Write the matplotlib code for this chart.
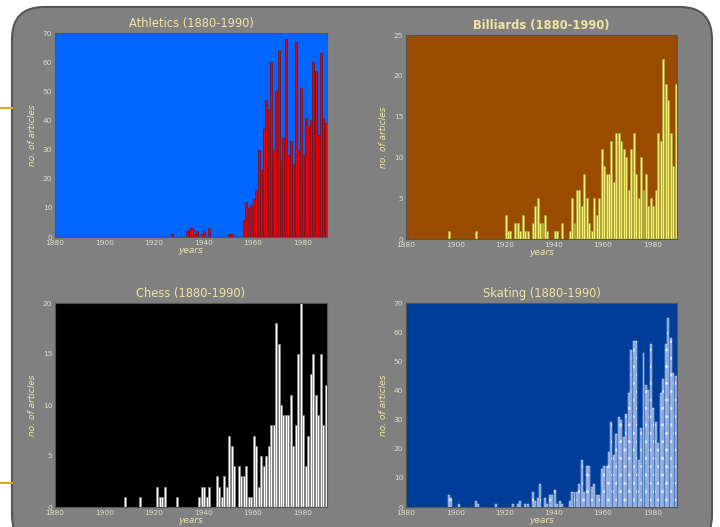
import matplotlib
matplotlib.use("Agg")
import matplotlib.pyplot as plt
from matplotlib.patches import FancyBboxPatch
from matplotlib.lines import Line2D

# articles per year, 1880-1989 (years not listed had none)
athletics_years = [1927, 1933, 1934, 1935, 1936, 1937, 1939, 1940, 1942, 1950, 1951] + list(range(1956, 1990))
athletics_counts = [1, 2, 3, 3, 1, 2, 1, 2, 3, 1, 1,
                    6, 12, 10, 11, 13, 16, 30, 23, 37, 47, 44, 60, 30, 50, 64, 26, 34,
                    68, 28, 33, 25, 67, 30, 51, 28, 41, 38, 40, 60, 57, 35, 63, 41, 39]

billiards_years = [1897, 1908, 1920, 1921, 1922, 1924, 1925, 1926, 1927, 1928, 1929,
                   1931, 1932, 1933, 1934, 1935, 1936, 1937, 1940, 1941, 1943] + list(range(1946, 1990))
billiards_counts = [1, 1, 3, 1, 1, 2, 2, 1, 3, 1, 1,
                    2, 4, 5, 2, 2, 3, 1, 1, 1, 2,
                    1, 5, 2, 6, 6, 4, 8, 5, 2, 1, 5, 3, 5, 11, 9, 8, 8, 12, 7, 13, 13, 12,
                    11, 10, 6, 11, 13, 8, 5, 10, 6, 8, 4, 5, 4, 6, 13, 12, 22, 19, 17, 13, 9, 19]

chess_years = [1908, 1914, 1921, 1922, 1923, 1924, 1929, 1938, 1939, 1940, 1941, 1942,
               1945, 1946, 1947, 1948, 1949, 1950, 1951, 1952] + list(range(1954, 1990))
chess_counts = [1, 1, 2, 1, 1, 2, 1, 1, 2, 2, 1, 2,
                3, 2, 1, 3, 2, 7, 6, 4,
                4, 3, 3, 4, 1, 1, 7, 6, 2, 5, 4, 5, 6, 8, 8, 18, 16, 10, 9, 9, 9, 11,
                6, 8, 15, 20, 9, 4, 7, 13, 15, 11, 9, 15, 8, 12]

skating_years = [1897, 1898, 1901, 1908, 1909, 1916, 1923, 1925, 1926, 1928, 1929,
                 1931, 1932, 1933, 1934, 1936, 1937, 1938, 1939, 1940, 1941, 1942, 1943] + list(range(1946, 1990))
skating_counts = [4, 3, 1, 2, 1, 1, 1, 1, 2, 1, 1,
                  5, 2, 3, 8, 3, 1, 4, 4, 6, 1, 2, 1,
                  2, 5, 5, 5, 8, 16, 5, 14, 14, 7, 8, 4, 4, 13, 14, 14, 19, 29, 18, 25,
                  31, 30, 24, 32, 39, 54, 57, 57, 16, 27, 53, 42, 40, 56, 34, 29, 22, 39,
                  44, 56, 65, 58, 46, 45]

khaki = "#eee6a0"
tick_col = "#dcdccc"

fig = plt.figure(figsize=(7.2, 5.27), dpi=100, facecolor="white")

# slide-style rounded background, drawn in pixel units
bg = FancyBboxPatch((12, -20), 700, 540,
                    boxstyle="round,pad=0,rounding_size=32",
                    transform=None, facecolor="#808080",
                    edgecolor="#555555", linewidth=1.5, zorder=-5)
fig.patches.append(bg)
for yy in (1 - 108 / 527, 1 - 483 / 527):
    fig.add_artist(Line2D([0, 12 / 720], [yy, yy], transform=fig.transFigure,
                          color="#e0a624", linewidth=1.5, zorder=-4))


def panel(rect, years, counts, title, bgcolor, ymax, ystep, bar_kw, bold=False):
    ax = fig.add_axes(rect)
    ax.set_facecolor(bgcolor)
    ax.bar(years, counts, width=0.8, align="edge", **bar_kw)
    ax.set_xlim(1880, 1990)
    ax.set_ylim(0, ymax)
    ax.set_xticks(range(1880, 1990, 20))
    ax.set_yticks(range(0, ymax + 1, ystep))
    ax.set_title(title, color=khaki, fontsize=8.3, pad=4,
                 fontweight="bold" if bold else "normal")
    ax.set_xlabel("years", color=khaki, fontsize=6.5, style="italic", labelpad=0)
    ax.set_ylabel("no. of articles", color=khaki, fontsize=6.5, style="italic", labelpad=4)
    ax.tick_params(colors=tick_col, labelsize=5.3, length=0, pad=2)
    for s in ax.spines.values():
        s.set_color("#555555")
        s.set_linewidth(0.8)
    return ax


panel([55 / 720, 1 - 237 / 527, 272 / 720, 204 / 527], athletics_years, athletics_counts,
      "Athletics (1880-1990)", "#0066ff", 70, 10,
      dict(color="#ee0000", edgecolor="#7a1010", linewidth=0.5))
panel([406 / 720, 1 - 239 / 527, 271 / 720, 204 / 527], billiards_years, billiards_counts,
      "Billiards (1880-1990)", "#994c00", 25, 5,
      dict(color="#f4f070", edgecolor="#b0a840", linewidth=0.5), bold=True)
panel([55 / 720, 1 - 507 / 527, 272 / 720, 204 / 527], chess_years, chess_counts,
      "Chess (1880-1990)", "black", 20, 5,
      dict(color="white", edgecolor="#888888", linewidth=0.5))
panel([406 / 720, 1 - 507 / 527, 271 / 720, 204 / 527], skating_years, skating_counts,
      "Skating (1880-1990)", "#003d99", 70, 10,
      dict(color="#7a9ad8", edgecolor="#d8e4f8", linewidth=0.3, hatch=".."))

fig.savefig("out.png", dpi=100, facecolor="white")
